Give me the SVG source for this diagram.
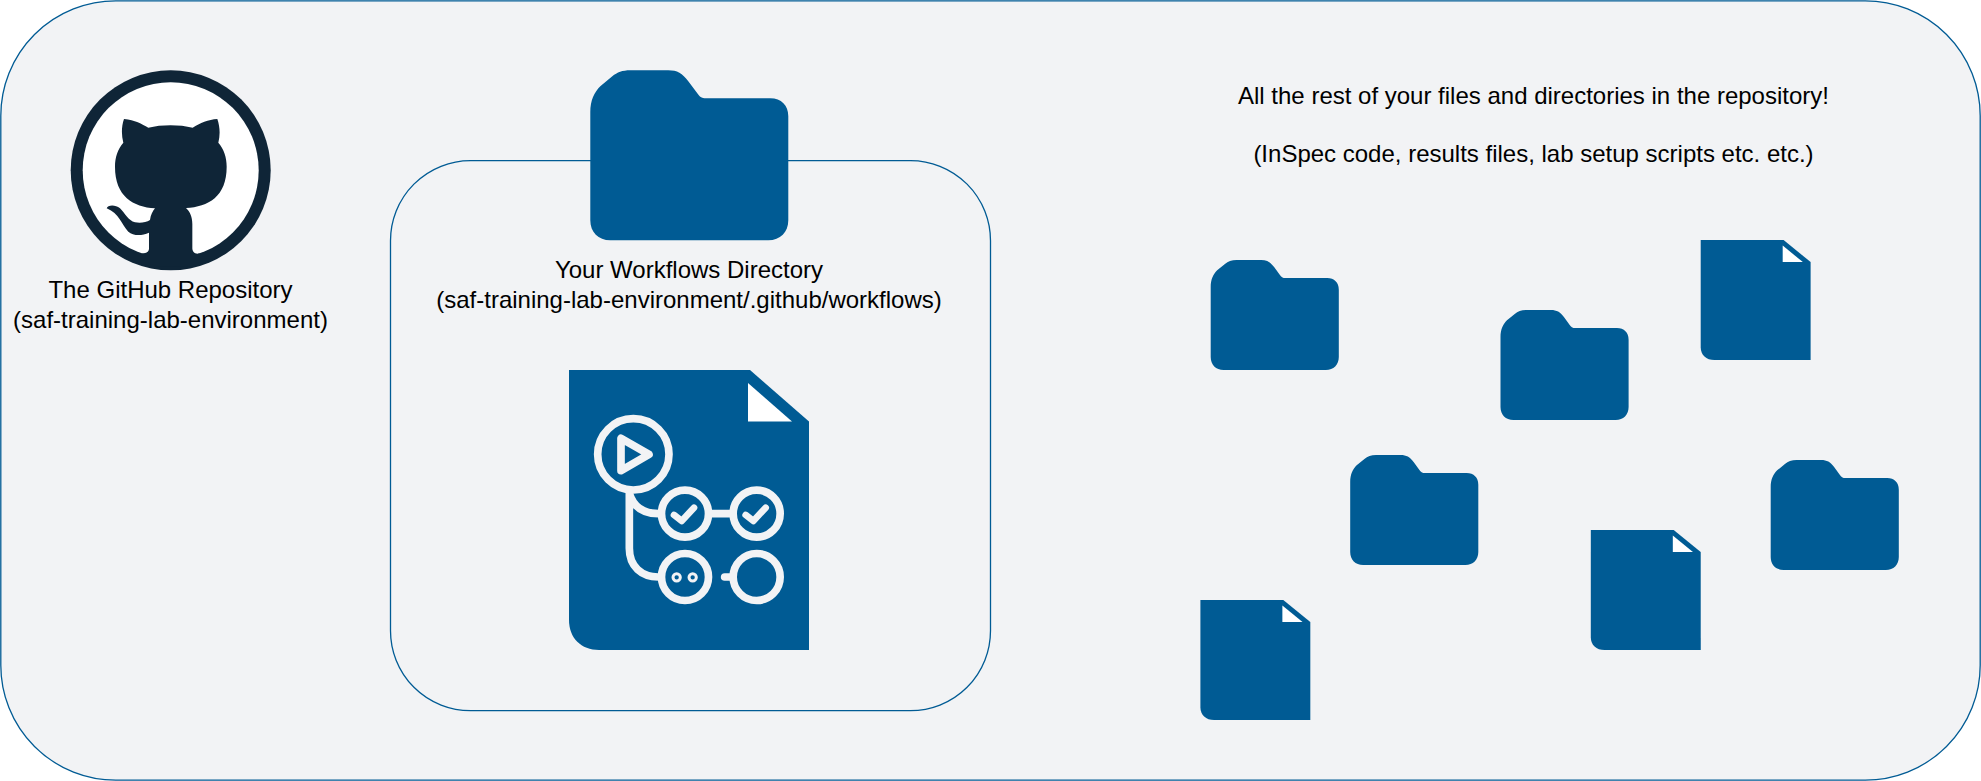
<svg xmlns="http://www.w3.org/2000/svg" xmlns:xlink="http://www.w3.org/1999/xlink" width="1981" height="781" viewBox="0 0 1981 781">
<style>
.panel{fill:#f2f3f5;stroke:#005b94;stroke-width:1.3}
.blue{fill:#005b94}
.label{font-family:"Liberation Sans",Arial,Helvetica,sans-serif;font-size:24px;fill:#000;text-anchor:middle}
.ic{fill:none;stroke:#f2f3f5;stroke-width:23;stroke-linecap:round;stroke-linejoin:round}
</style>
<defs>
<path id="folder" class="blue" d="M0,42 C0,30 4,22 10,16 L22,6 C27,2 32,0 40,0 H78 C87,0 92,3 98,11 L107,23 C109,26 111,28 116,28 H180 C191,28 198,35 198,46 V150 C198,162 190,170 178,170 H20 C8,170 0,162 0,150 Z"/>
<g id="file">
<path class="blue" d="M0,0 H181 L240,51.5 V280 H30 C12,280 0,268 0,250 Z"/>
<path fill="#fff" d="M179,13 V51.5 L223,51.5 Z"/>
</g>
</defs>

<g id="repository"><rect class="panel" x="0.8" y="0.8" width="1979.4" height="779.4" rx="115" ry="115"/></g>

<g id="workflows-directory">
<rect class="panel" x="390.5" y="160.7" width="600" height="550" rx="80" ry="80"/>
<use xlink:href="#folder" href="#folder" transform="translate(590.3,70.2)"/>
<text class="label"><tspan x="689" y="278">Your Workflows Directory</tspan><tspan x="689" y="307.5">(saf-training-lab-environment/.github/workflows)</tspan></text>
</g>

<g id="github-logo">
<circle cx="170.7" cy="170.3" r="100" fill="#0f2537"/>
<circle cx="170.7" cy="170.3" r="88" fill="#fff"/>
<path transform="scale(.33333)" fill="#0f2537" d="M372,357 C405,360 425,372 445,383 C485,373 538,373 578,383 C600,370 625,358 652,357 C660,380 661,405 655,428 C672,448 680,472 680,500 C680,590 625,620 558,624 C570,635 577,650 577,672 V745 C577,756 585,764 600,760 L560,800 H470 L425,759 C440,762 447,755 447,745 V698 C425,708 400,708 385,695 C365,675 358,640 320,625 C322,615 345,612 360,625 C375,640 385,662 405,667 C420,670 438,668 450,660 C452,645 458,633 465,625 C400,620 345,590 345,500 C345,472 353,448 370,428 C364,405 364,380 372,357 Z"/>
<text class="label" x="170.5" y="298">The GitHub Repository</text>
<text class="label" x="170.5" y="328">(saf-training-lab-environment)</text>
</g>

<g id="workflow-file">
<use xlink:href="#file" href="#file" transform="translate(569,370)"/>
<g transform="translate(550,360) scale(.33333)">
<circle class="ic" cx="250" cy="283" r="107"/>
<path class="ic" d="M213,235 V332 L297,283 Z"/>
<circle class="ic" cx="405" cy="461" r="70.5"/>
<circle class="ic" cx="620" cy="461" r="70.5"/>
<circle class="ic" cx="405" cy="651" r="70.5"/>
<circle class="ic" cx="620" cy="651" r="70.5"/>
<path class="ic" style="stroke-linecap:butt" d="M238,395 V565 C238,620 275,651 325,651 M238,400 C250,440 280,461 325,461 M485,461 H540"/>
<path class="ic" d="M524,651 H540"/>
<path class="ic" style="stroke-width:20" d="M372,465 L395,483 L432,443"/>
<path class="ic" style="stroke-width:20" d="M587,465 L610,483 L647,443"/>
<circle cx="380" cy="652" r="11" fill="none" stroke="#f2f3f5" stroke-width="9"/>
<circle cx="428" cy="652" r="11" fill="none" stroke="#f2f3f5" stroke-width="9"/>
</g>
</g>

<g id="rest-label">
<text class="label" x="1533.5" y="104">All the rest of your files and directories in the repository!</text>
<text class="label" x="1533.5" y="161.5">(InSpec code, results files, lab setup scripts etc. etc.)</text>
</g>

<g id="folder-1"><use xlink:href="#folder" href="#folder" transform="translate(1210.7,260) scale(.647)"/></g>
<g id="folder-2"><use xlink:href="#folder" href="#folder" transform="translate(1500.5,310) scale(.647)"/></g>
<g id="folder-3"><use xlink:href="#folder" href="#folder" transform="translate(1350.2,455) scale(.647)"/></g>
<g id="folder-4"><use xlink:href="#folder" href="#folder" transform="translate(1770.7,460) scale(.647)"/></g>
<g id="file-1"><use xlink:href="#file" href="#file" transform="translate(1700.7,240) scale(.458,.4286)"/></g>
<g id="file-2"><use xlink:href="#file" href="#file" transform="translate(1590.8,530) scale(.458,.4286)"/></g>
<g id="file-3"><use xlink:href="#file" href="#file" transform="translate(1200.4,600) scale(.458,.4286)"/></g>
</svg>
